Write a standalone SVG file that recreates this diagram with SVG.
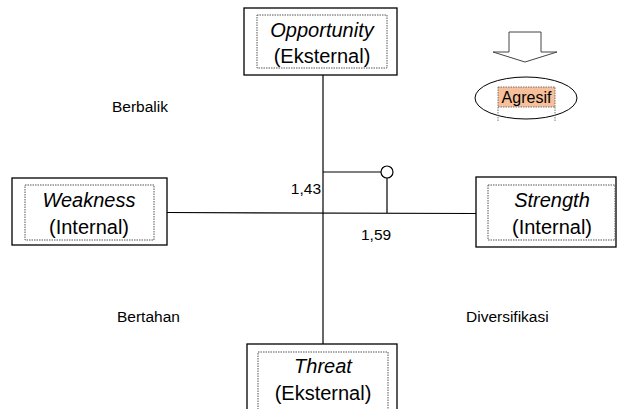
<svg xmlns="http://www.w3.org/2000/svg" width="618" height="409" viewBox="0 0 618 409">
<style>
.box{fill:#fff;stroke:#000;stroke-width:1.3}
.inner{fill:none;stroke:#555;stroke-width:1;stroke-dasharray:1.5,1}
.ln{fill:none;stroke:#000;stroke-width:1.2}
text{font-family:"Liberation Sans",Arial,sans-serif;fill:#000}
.t{font-size:20px;text-anchor:middle}
.i{font-style:italic}
.s{font-size:15.5px}
</style>
<rect width="618" height="409" fill="#fff"/>
<g id="connectors">
<line class="ln" x1="323" y1="75" x2="323" y2="345" stroke="#555"/>
<line class="ln" x1="167" y1="212.5" x2="476" y2="213.5" stroke="#555"/>
<polyline class="ln" points="323,172 381,172"/>
<line class="ln" x1="387" y1="178" x2="387" y2="213"/>
<circle cx="387" cy="172" r="6" fill="#fff" stroke="#000" stroke-width="1.2"/>
</g>
<g id="opportunity">
<rect class="box" x="244" y="8" width="153" height="67"/>
<rect class="inner" x="257" y="15" width="130" height="53"/>
<text class="t i" x="322" y="37">Opportunity</text>
<text class="t" x="322" y="63">(Eksternal)</text>
</g>
<g id="weakness">
<rect class="box" x="12" y="178" width="155" height="67"/>
<rect class="inner" x="25" y="185" width="129" height="55"/>
<text class="t i" x="89" y="207">Weakness</text>
<text class="t" x="89" y="234">(Internal)</text>
</g>
<g id="strength">
<rect class="box" x="476" y="177" width="140" height="70"/>
<rect class="inner" x="488" y="185" width="127" height="55"/>
<text class="t i" x="552" y="207">Strength</text>
<text class="t" x="552" y="234">(Internal)</text>
</g>
<g id="threat">
<rect class="box" x="247" y="344" width="150" height="80"/>
<rect class="inner" x="258" y="352" width="130" height="70"/>
<text class="t i" x="323" y="373">Threat</text>
<text class="t" x="323" y="400">(Eksternal)</text>
</g>
<g id="agresif">
<polygon points="509,32 541,32 541,52 557,52 525,62 493,52 509,52" fill="#fff" stroke="#444" stroke-width="1"/>
<ellipse cx="526" cy="98" rx="51" ry="21" fill="#fff" stroke="#000" stroke-width="1"/>
<rect x="498" y="87" width="57" height="20" fill="#f7c09a" stroke="#555" stroke-width="0.8" stroke-dasharray="1.5,1"/>
<line x1="498" y1="107" x2="498" y2="121" stroke="#555" stroke-width="0.8" stroke-dasharray="1.5,1"/>
<line x1="555" y1="107" x2="555" y2="121" stroke="#555" stroke-width="0.8" stroke-dasharray="1.5,1"/>
<text x="526.5" y="103" font-size="16" text-anchor="middle">Agresif</text>
</g>
<g id="labels">
<text class="s" x="112" y="112">Berbalik</text>
<text class="s" x="117" y="322">Bertahan</text>
<text class="s" x="466" y="322">Diversifikasi</text>
<text class="s" x="321" y="194" text-anchor="end">1,43</text>
<text class="s" x="361" y="240">1,59</text>
</g>
</svg>
